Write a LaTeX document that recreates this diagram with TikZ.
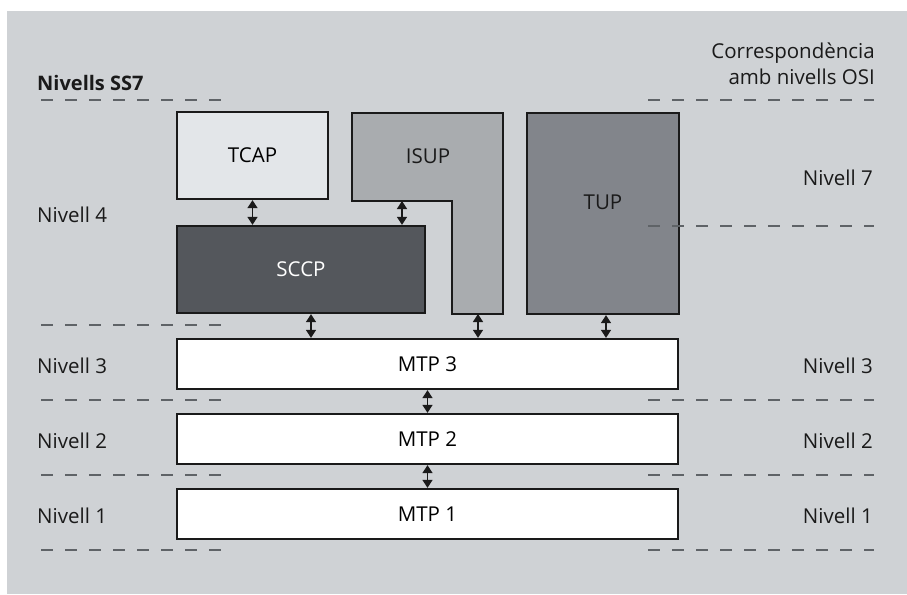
\documentclass[tikz,border=0pt]{standalone}
\usepackage{fontspec}
\setmainfont{Open Sans}
\usetikzlibrary{arrows.meta}

\definecolor{panelgray}{HTML}{CFD2D5}
\definecolor{tcapfill}{HTML}{E3E6E9}
\definecolor{isupfill}{HTML}{A9ACAF}
\definecolor{sccpfill}{HTML}{54575C}
\definecolor{tupfill}{HTML}{82858B}
\definecolor{edgeblack}{HTML}{1A1A1A}
\definecolor{dashgray}{HTML}{5F6367}

\tikzset{
  layerbox/.style={draw=edgeblack, line width=2.3pt, inner sep=0pt},
  lbl/.style={text=edgeblack, inner sep=0pt},
  levline/.style={draw=dashgray, line width=1.3pt, dash pattern=on 12pt off 12pt},
  link/.style={draw=edgeblack, line width=1.5pt,
    {Triangle[width=10pt,length=8pt]}-{Triangle[width=10pt,length=8pt]}}
}

\begin{document}
\begin{tikzpicture}[x=1pt,y=-1pt,font=\fontsize{20.5}{24}\selectfont]
\useasboundingbox (0,0) rectangle (907,594);
\fill [panelgray] (7,11) rectangle (907,594);

% headings
\node [lbl, anchor=west, font=\fontsize{20}{24}\selectfont\bfseries] (ss7) at (37,83) {Nivells SS7};
\node [lbl, anchor=east, align=right, font=\fontsize{20.5}{26}\selectfont] (osi) at (875,64) {Correspondència\\amb nivells OSI};

% upper layers
\node [layerbox, fill=tcapfill, minimum width=151pt, minimum height=87pt] (tcap) at (252.5,155.5) {TCAP};
\node [layerbox, fill=sccpfill, text=white, minimum width=248pt, minimum height=87pt] (sccp) at (301,269.5) {SCCP};
\draw [layerbox, fill=isupfill] (352,113) -- (503,113) -- (503,314) -- (452,314) -- (452,201) -- (352,201) -- cycle;
\node [lbl] (isup) at (428,156) {ISUP};
\coordinate (isupa) at (402,201);
\coordinate (isupb) at (478,314);
\node [layerbox, fill=tupfill, minimum width=152pt, minimum height=201pt] (tup) at (603,213.5) {};
\node [lbl] (tuptext) at ([yshift=11pt]tup.center) {TUP};

% MTP
\node [layerbox, fill=white, minimum width=501pt, minimum height=50pt] (mtp3) at (427.5,364) {MTP 3};
\node [layerbox, fill=white, minimum width=501pt, minimum height=50pt] (mtp2) at (427.5,439) {MTP 2};
\node [layerbox, fill=white, minimum width=501pt, minimum height=50pt] (mtp1) at (427.5,514) {MTP 1};

% connectors
\draw [link] (tcap.south) -- (tcap.south |- sccp.north);
\draw [link] (isupa) -- (isupa |- sccp.north);
\draw [link] ([xshift=10pt]sccp.south) -- ([xshift=10pt]sccp.south |- mtp3.north);
\draw [link] (isupb) -- (isupb |- mtp3.north);
\draw [link] ([xshift=3pt]tup.south) -- ([xshift=3pt]tup.south |- mtp3.north);
\draw [link] (mtp3.south) -- (mtp2.north);
\draw [link] (mtp2.south) -- (mtp1.north);

% level borders
\foreach \y in {100,325,400,475,550}
  \draw [levline] (41,\y) -- (222,\y);
\foreach \y in {100,226,400,475,550}
  \draw [levline] (648,\y) -- (874,\y);

% level names
\node [lbl, anchor=west] (l4) at (37,215) {Nivell 4};
\node [lbl, anchor=west] (l3) at (37,366) {Nivell 3};
\node [lbl, anchor=west] (l2) at (37,441) {Nivell 2};
\node [lbl, anchor=west] (l1) at (37,516) {Nivell 1};
\node [lbl, anchor=east] (r7) at (873,178) {Nivell 7};
\node [lbl, anchor=east] (r3) at (873,366) {Nivell 3};
\node [lbl, anchor=east] (r2) at (873,441) {Nivell 2};
\node [lbl, anchor=east] (r1) at (873,516) {Nivell 1};
\end{tikzpicture}
\end{document}
